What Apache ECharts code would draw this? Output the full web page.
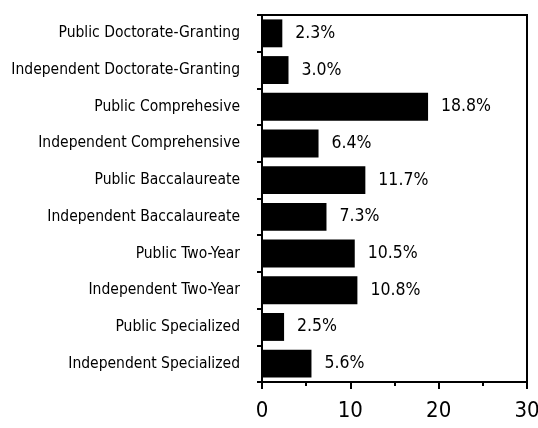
<!DOCTYPE html>
<html>
<head>
<meta charset="utf-8">
<script src="https://cdn.jsdelivr.net/npm/echarts@6/dist/echarts.min.js"></script>
<style>
  html, body { margin: 0; padding: 0; background: #fff; }
  #chart { width: 538px; height: 428px; }
</style>
</head>
<body>
<div id="chart"></div>
<script>
const categories = [
  'Public Doctorate-Granting',
  'Independent Doctorate-Granting',
  'Public Comprehesive',
  'Independent Comprehensive',
  'Public Baccalaureate',
  'Independent Baccalaureate',
  'Public Two-Year',
  'Independent Two-Year',
  'Public Specialized',
  'Independent Specialized'
]
const shares = [2.3, 3.0, 18.8, 6.4, 11.7, 7.3, 10.5, 10.8, 2.5, 5.6]
const xTicks = { min: 0, max: 30, interval: 10 }

const font = '"DejaVu Sans Condensed", "Liberation Sans Narrow", sans-serif'

const chart = echarts.init(document.getElementById('chart'))
chart.setOption({
  animation: false,
  grid: {
    left: 262,
    right: 11,
    top: 15,
    bottom: 46,
    outerBoundsMode: 'none',
    containLabel: false,
    show: true,
    borderColor: '#000',
    borderWidth: 2,
    backgroundColor: 'transparent'
  },
  xAxis: {
    type: 'value',
    min: xTicks.min,
    max: xTicks.max,
    interval: xTicks.interval,
    splitLine: { show: false },
    axisLine: { show: true, lineStyle: { color: '#000', width: 2 } },
    axisTick: { show: true, length: 7, lineStyle: { color: '#000', width: 2 } },
    minorTick: { show: true, splitNumber: 2, length: 4, lineStyle: { color: '#000', width: 2 } },
    axisLabel: { color: '#000', fontSize: 22, fontFamily: font, margin: 18 }
  },
  yAxis: {
    type: 'category',
    data: categories,
    inverse: true,
    axisLine: { show: true, lineStyle: { color: '#000', width: 2 } },
    axisTick: { show: true, length: 5, lineStyle: { color: '#000', width: 2 } },
    axisLabel: { color: '#000', fontSize: 15.5, fontFamily: font, margin: 22 }
  },
  series: [{
    type: 'bar',
    data: shares,
    barWidth: '76%',
    itemStyle: { color: '#000' },
    label: {
      show: true,
      position: 'right',
      distance: 13,
      color: '#000',
      fontSize: 17.5,
      fontFamily: font,
      formatter: p => p.value.toFixed(1) + '%'
    }
  }]
})
</script>
</body>
</html>
